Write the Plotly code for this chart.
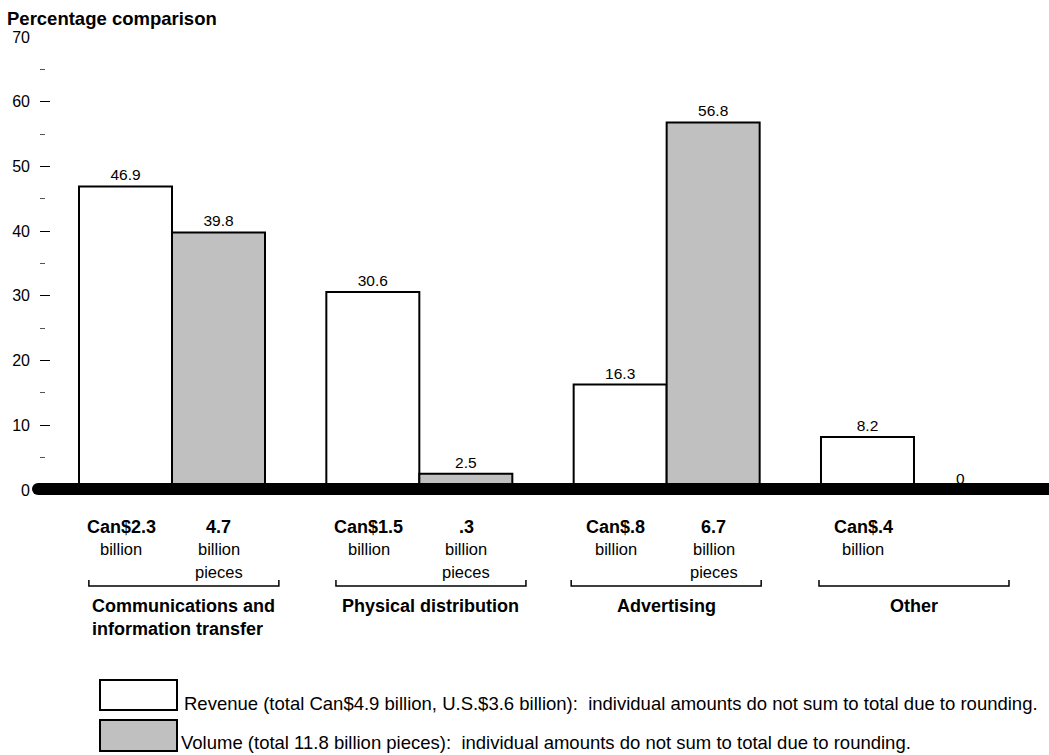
import plotly.graph_objects as go

# ---------------- data ----------------
categories = ["Communications and<br>information transfer", "Physical distribution",
              "Advertising", "Other"]
revenue_pct = [46.9, 30.6, 16.3, 8.2]
volume_pct = [39.8, 2.5, 56.8, 0]
revenue_amount = ["Can$2.3", "Can$1.5", "Can$.8", "Can$.4"]
volume_amount = ["4.7", ".3", "6.7", ""]
y_ticks = [0, 10, 20, 30, 40, 50, 60, 70]
legend_labels = [
    "Revenue (total Can$4.9 billion, U.S.$3.6 billion):  individual amounts do not sum to total due to rounding.",
    "Volume (total 11.8 billion pieces):  individual amounts do not sum to total due to rounding.",
]
y_title = "Percentage comparison"

# ---------------- layout geometry (page pixels) ----------------
W, H = 1049, 755
PL, PR, PT, PB = 40, 1038, 37, 490   # plot area in page pixels
ML, MT, MR, MB = PL, PT, W - PR, H - PB
PW, PH = PR - PL, PB - PT
XR = [(PL - 172) / 247.33, (PR - 172) / 247.33]
FONT = "Liberation Sans, Arial, sans-serif"
GRAY = "#c0c0c0"


def px_x(px):
    return (px - PL) / PW


def px_y(py):
    return (PB - py) / PH


x = list(range(len(categories)))
fig = go.Figure()
fig.add_trace(go.Bar(
    x=x, y=revenue_pct, name="Revenue",
    marker=dict(color="white", line=dict(color="black", width=2)),
    text=[f"{v:g}" for v in revenue_pct], textposition="outside",
    textfont=dict(size=15.5, color="black", family=FONT), cliponaxis=False,
))
fig.add_trace(go.Bar(
    x=x, y=volume_pct, name="Volume",
    marker=dict(color=GRAY, line=dict(color="black", width=2)),
    text=[f"{v:g}" for v in volume_pct], textposition="outside",
    textfont=dict(size=15.5, color="black", family=FONT), cliponaxis=False,
))

shapes = []
ann = []

# thick baseline with rounded left end
shapes.append(dict(type="rect", xref="paper", yref="paper",
                   x0=px_x(38), x1=px_x(W + 2), y0=px_y(495), y1=px_y(483),
                   fillcolor="black", line=dict(width=0), layer="above"))
shapes.append(dict(type="circle", xref="paper", yref="paper",
                   x0=px_x(32), x1=px_x(44), y0=px_y(495), y1=px_y(483),
                   fillcolor="black", line=dict(width=0), layer="above"))

# labels under bars
rev_off, vol_off = -0.205, 0.19
line_y = [527, 549, 572]


def sub(xv, py, text, size):
    ann.append(dict(x=xv, y=px_y(py), xref="x", yref="paper",
                    xanchor="center", yanchor="middle",
                    text=text, showarrow=False,
                    font=dict(size=size, family=FONT, color="black")))


for i in x:
    sub(i + rev_off, line_y[0], f"<b>{revenue_amount[i]}</b>", 18)
    sub(i + rev_off, line_y[1], "billion", 16.5)
    if volume_amount[i]:
        sub(i + vol_off, line_y[0], f"<b>{volume_amount[i]}</b>", 18)
        sub(i + vol_off, line_y[1], "billion", 16.5)
        sub(i + vol_off, line_y[2], "pieces", 16.5)

# brackets + group names
bracket_shift = [0.048, 0.047, -0.002, 0.0]
half = 95 / 247.33
yb, yt = px_y(586), px_y(580)
for i in x:
    c = i + bracket_shift[i]
    shapes.append(dict(type="path", xref="x", yref="paper",
                       path=f"M {c-half},{yt} L {c-half},{yb} L {c+half},{yb} L {c+half},{yt}",
                       line=dict(color="black", width=1.5)))
    ann.append(dict(x=c, y=px_y(594), xref="x", yref="paper", yanchor="top",
                    text=f"<b>{categories[i]}</b>", showarrow=False, align="left",
                    font=dict(size=18, family=FONT, color="black")))

# legend boxes
boxes = [(680, 710, "white", 703, 182), (720, 751, GRAY, 742, 179)]
for (t, b, col, ty, tx), lab in zip(boxes, legend_labels):
    shapes.append(dict(type="rect", xref="paper", yref="paper",
                       x0=px_x(100), x1=px_x(177), y0=px_y(b), y1=px_y(t),
                       fillcolor=col, line=dict(color="black", width=2)))
    ann.append(dict(x=px_x(tx), y=px_y(ty), xref="paper", yref="paper",
                    xanchor="left", yanchor="middle", text=lab, showarrow=False,
                    font=dict(size=18.5, family=FONT, color="black")))

# y title
ann.append(dict(x=px_x(5), y=px_y(18), xref="paper", yref="paper",
                xanchor="left", yanchor="middle", text=f"<b>{y_title}</b>",
                showarrow=False, font=dict(size=18.5, family=FONT, color="black")))

fig.update_layout(
    width=W, height=H,
    margin=dict(l=ML, r=MR, t=MT, b=MB, pad=0),
    paper_bgcolor="white", plot_bgcolor="white",
    barmode="group", bargap=0.248, bargroupgap=0,
    showlegend=False,
    shapes=shapes, annotations=ann,
    font=dict(family=FONT, color="black"),
)
fig.update_xaxes(range=XR, showticklabels=False, ticks="", showline=False,
                 zeroline=False, showgrid=False)
fig.update_yaxes(range=[0, 70], tickvals=y_ticks, ticks="inside", ticklen=10,
                 tickwidth=1, tickcolor="black", showline=False, zeroline=False,
                 showgrid=False, ticklabelstandoff=9,
                 tickfont=dict(size=16, family=FONT, color="black"),
                 minor=dict(dtick=5, ticks="inside", ticklen=5, tickwidth=1,
                            tickcolor="#555555", showgrid=False))

fig.write_html(
    "out.html",
    config={"displayModeBar": False},
    post_script="document.body.style.margin='0';document.body.style.overflow='hidden';",
)
